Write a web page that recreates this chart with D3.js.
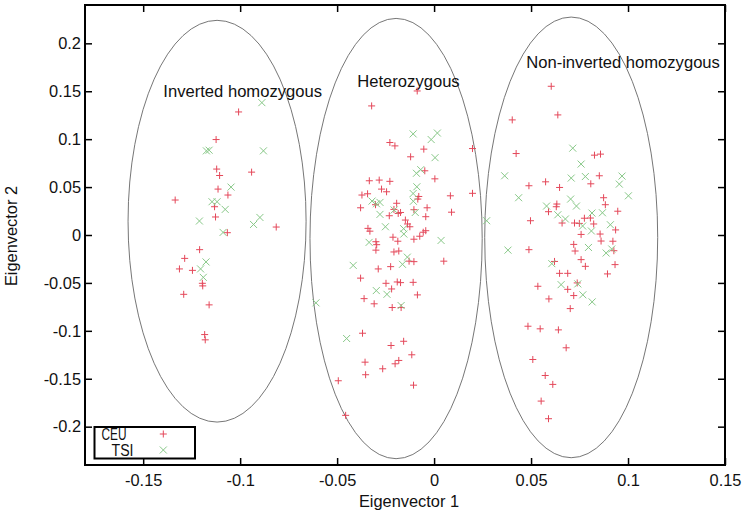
<!DOCTYPE html>
<html>
<head>
<meta charset="utf-8">
<script src="https://cdn.jsdelivr.net/npm/d3@7.9.0/dist/d3.min.js"></script>
<style>
  body { margin: 0; background: #fff; }
  svg text { font-family: "Liberation Sans", Arial, sans-serif; }
</style>
</head>
<body>
<div id="chart"></div>
<script>
// CEU samples (eigenvector 1, eigenvector 2)
const ceu = [
  // inverted homozygous
  [-0.1008, 0.1284], [-0.1124, 0.0996], [-0.1121, 0.0688], [-0.1106, 0.0621], [-0.0941, 0.0656],
  [-0.1114, 0.0479], [-0.1063, 0.0417], [-0.1335, 0.0365], [-0.1132, 0.0295], [-0.1127, 0.0188],
  [-0.1066, 0.0024], [-0.0814, 0.0083], [-0.1209, -0.0153], [-0.1286, -0.0244], [-0.1313, -0.0354],
  [-0.1246, -0.0369], [-0.1195, -0.0504], [-0.1193, -0.0531], [-0.1291, -0.0619], [-0.1160, -0.0729],
  [-0.1183, -0.1039], [-0.1180, -0.1094],
  // heterozygous
  [-0.0087, 0.1503], [-0.0322, 0.1347], [-0.0228, 0.0965], [-0.0202, 0.0930], [-0.0053, 0.0896],
  [-0.0121, 0.0816], [0.0198, 0.0902], [-0.0048, 0.0670], [0.0004, 0.0586], [-0.0334, 0.0566],
  [-0.0283, 0.0573], [-0.0228, 0.0560], [-0.0271, 0.0479], [-0.0245, 0.0451], [-0.0372, 0.0417],
  [-0.0343, 0.0430], [-0.0084, 0.0375], [-0.0079, 0.0402], [0.0084, 0.0409], [0.0198, 0.0435],
  [-0.0379, 0.0284], [-0.0302, 0.0316], [-0.0193, 0.0331], [-0.0036, 0.0284], [0.0090, 0.0238],
  [-0.0231, 0.0201], [-0.0185, 0.0225], [-0.0173, 0.0235], [-0.0207, 0.0267], [-0.0104, 0.0264],
  [-0.0043, 0.0191], [-0.0148, 0.0156], [-0.0137, 0.0115], [-0.0341, 0.0069], [-0.0331, 0.0040],
  [-0.0125, 0.0086], [-0.0043, 0.0045], [-0.0056, 0.0029], [-0.0074, -0.0013], [-0.0212, -0.0023],
  [-0.0187, -0.0065], [-0.0104, -0.0044], [-0.0300, -0.0070], [-0.0296, -0.0101], [-0.0300, -0.0158],
  [-0.0207, -0.0177], [-0.0182, -0.0167], [-0.0129, -0.0273], [-0.0104, -0.0278], [0.0050, -0.0273],
  [-0.0288, -0.0354], [-0.0224, -0.0330], [-0.0379, -0.0450], [-0.0248, -0.0504], [-0.0190, -0.0490],
  [-0.0173, -0.0497], [-0.0108, -0.0494], [-0.0219, -0.0563], [-0.0086, -0.0625], [-0.0361, -0.0664],
  [-0.0309, -0.0718], [-0.0216, -0.0757], [-0.0170, -0.0757], [-0.0369, -0.1025], [-0.0222, -0.1153],
  [-0.0157, -0.1109], [-0.0356, -0.1327], [-0.0353, -0.1458], [-0.0265, -0.1396], [-0.0201, -0.1344],
  [-0.0182, -0.1309], [-0.0115, -0.1250], [-0.0494, -0.1521], [-0.0106, -0.1567], [-0.0456, -0.1882],
  // non-inverted homozygous
  [0.0604, 0.1552], [0.0638, 0.1253], [0.0403, 0.1201], [0.0423, 0.0850], [0.0827, 0.0833],
  [0.0858, 0.0844], [0.0852, 0.0618], [0.0808, 0.0534], [0.0489, 0.0514], [0.0575, 0.0555],
  [0.0647, 0.0496], [0.0874, 0.0389], [0.0883, 0.0316], [0.0633, 0.0323], [0.0630, 0.0295],
  [0.0590, 0.0243], [0.0947, 0.0248], [0.0497, 0.0149], [0.0660, 0.0125], [0.0724, 0.0125],
  [0.0749, 0.0121], [0.0775, 0.0175], [0.0823, 0.0115], [0.0806, 0.0177], [0.0936, 0.0053],
  [0.0758, 0.0006], [0.0720, -0.0098], [0.0727, -0.0167], [0.0856, 0.0010], [0.0861, -0.0063],
  [0.0922, -0.0065], [0.0927, -0.0164], [0.0489, -0.0153], [0.0621, -0.0276], [0.0758, -0.0257],
  [0.0780, -0.0327], [0.0933, -0.0309], [0.0647, -0.0400], [0.0689, -0.0400], [0.0894, -0.0406],
  [0.0738, -0.0500], [0.0535, -0.0535], [0.0689, -0.0567], [0.0720, -0.0632], [0.0592, -0.0667],
  [0.0702, -0.0768], [0.0484, -0.0952], [0.0547, -0.0979], [0.0641, -0.0990], [0.0681, -0.1177],
  [0.0509, -0.1299], [0.0573, -0.1466], [0.0612, -0.1559], [0.0552, -0.1733], [0.0590, -0.1917]
];

// TSI samples
const tsi = [
  // inverted homozygous
  [-0.0888, 0.1381], [-0.1174, 0.0878], [-0.1160, 0.0885], [-0.0880, 0.0878], [-0.1047, 0.0500],
  [-0.1145, 0.0347], [-0.1119, 0.0347], [-0.1077, 0.0267], [-0.1210, 0.0146], [-0.0931, 0.0110],
  [-0.0898, 0.0183], [-0.1088, 0.0027], [-0.1176, -0.0281], [-0.1204, -0.0354], [-0.1190, -0.0442],
  // heterozygous
  [-0.0108, 0.1055], [-0.0015, 0.0996], [0.0017, 0.1064], [0.0005, 0.0807], [-0.0091, 0.0644],
  [-0.0069, 0.0682], [-0.0089, 0.0503], [-0.0108, 0.0433], [-0.0320, 0.0354], [-0.0279, 0.0340],
  [-0.0297, 0.0326], [-0.0107, 0.0352], [-0.0097, 0.0235], [-0.0279, 0.0215], [-0.0206, 0.0261],
  [-0.0251, 0.0086], [-0.0157, 0.0066], [-0.0156, 0.0010], [-0.0335, -0.0077], [0.0036, -0.0057],
  [-0.0138, -0.0231], [-0.0163, -0.0306], [-0.0417, -0.0317], [-0.0298, -0.0580], [-0.0243, -0.0619],
  [-0.0170, -0.0736], [-0.0609, -0.0708], [-0.0451, -0.1080], [0.0271, 0.0149],
  // non-inverted homozygous
  [0.0715, 0.0906], [0.0758, 0.0740], [0.0364, 0.0618], [0.0707, 0.0594], [0.0780, 0.0610],
  [0.0969, 0.0615], [0.0955, 0.0531], [0.1002, 0.0409], [0.0436, 0.0389], [0.0704, 0.0375],
  [0.0734, 0.0302], [0.0580, 0.0302], [0.0638, 0.0211], [0.0677, 0.0167], [0.0814, 0.0229],
  [0.0868, 0.0232], [0.0909, 0.0107], [0.0766, 0.0094], [0.0811, 0.0042], [0.0381, -0.0158],
  [0.0796, -0.0130], [0.0887, -0.0188], [0.0916, -0.0146], [0.0607, -0.0299], [0.0655, -0.0518],
  [0.0741, -0.0510], [0.0767, -0.0624], [0.0815, -0.0698]
];

// cluster ellipses: centre x, centre y, half width, half height (data units)
const groups = ['Inverted homozygous', 'Heterozygous', 'Non-inverted homozygous'];
const ellCx = [-0.1119, -0.0196, 0.0707];
const ellCy = [0.0144, -0.0037, -0.0025];
const ellRx = [0.0459, 0.0444, 0.0446];
const ellRy = [0.2096, 0.2297, 0.2299];
// where each group name is written (data units, left end of baseline)
const labelX = [-0.1396, -0.0396, 0.0475];
const labelY = [0.1444, 0.1545, 0.1746];

const xTicks = [-0.15, -0.1, -0.05, 0, 0.05, 0.1, 0.15];
const yTicks = [-0.2, -0.15, -0.1, -0.05, 0, 0.05, 0.1, 0.15, 0.2];

const width = 751;
const height = 518;
const margin = { top: 5, right: 26, bottom: 53, left: 85 };

const svg = d3.select('#chart')
  .append('svg')
  .attr('width', width)
  .attr('height', height);

const xScale = d3.scaleLinear()
  .domain([-0.18, 0.15])
  .range([margin.left, width - margin.right]);

const yScale = d3.scaleLinear()
  .domain([-0.24, 0.24])
  .range([height - margin.bottom, margin.top]);

const fmt = (d) => d === 0 ? '0' : String(d);

// ellipses
svg.append('g')
  .selectAll('ellipse')
  .data(groups)
  .join('ellipse')
  .attr('cx', (d, i) => xScale(ellCx[i]))
  .attr('cy', (d, i) => yScale(ellCy[i]))
  .attr('rx', (d, i) => xScale(ellCx[i] + ellRx[i]) - xScale(ellCx[i]))
  .attr('ry', (d, i) => yScale(ellCy[i]) - yScale(ellCy[i] + ellRy[i]))
  .attr('fill', 'none')
  .attr('stroke', '#666')
  .attr('stroke-width', 0.9);

// group labels
svg.append('g')
  .selectAll('text')
  .data(groups)
  .join('text')
  .attr('x', (d, i) => xScale(labelX[i]))
  .attr('y', (d, i) => yScale(labelY[i]))
  .attr('font-size', 16.6)
  .attr('fill', '#111')
  .text((d) => d);

// points
const s = 3.5;
svg.append('g')
  .selectAll('path')
  .data(ceu)
  .join('path')
  .attr('d', (d) => {
    const cx = xScale(d[0]), cy = yScale(d[1]);
    return `M${cx - s},${cy}H${cx + s}M${cx},${cy - s}V${cy + s}`;
  })
  .attr('stroke', '#e4485a')
  .attr('stroke-width', 1)
  .attr('fill', 'none');

svg.append('g')
  .selectAll('path')
  .data(tsi)
  .join('path')
  .attr('d', (d) => {
    const cx = xScale(d[0]), cy = yScale(d[1]);
    return `M${cx - s},${cy - s}L${cx + s},${cy + s}M${cx - s},${cy + s}L${cx + s},${cy - s}`;
  })
  .attr('stroke', '#88c888')
  .attr('stroke-width', 1)
  .attr('fill', 'none');

// axes, ticks pointing inwards on all four sides
const tick = 7;
const xAxis = svg.append('g')
  .attr('transform', `translate(0, ${height - margin.bottom})`)
  .call(d3.axisBottom(xScale).tickValues(xTicks).tickFormat(fmt).tickSize(-tick).tickPadding(9));
const xAxisTop = svg.append('g')
  .attr('transform', `translate(0, ${margin.top})`)
  .call(d3.axisTop(xScale).tickValues(xTicks).tickFormat('').tickSize(-tick));
const yAxis = svg.append('g')
  .attr('transform', `translate(${margin.left}, 0)`)
  .call(d3.axisLeft(yScale).tickValues(yTicks).tickFormat(fmt).tickSize(-tick).tickPadding(4));
const yAxisRight = svg.append('g')
  .attr('transform', `translate(${width - margin.right}, 0)`)
  .call(d3.axisRight(yScale).tickValues(yTicks).tickFormat('').tickSize(-tick));

[xAxis, xAxisTop, yAxis, yAxisRight].forEach((g) => {
  g.select('.domain').remove();
  g.selectAll('line').attr('stroke', '#000').attr('stroke-width', 1.5);
  g.selectAll('text').attr('font-size', 16.4).attr('fill', '#111')
    .style('font-family', '"Liberation Sans", Arial, sans-serif');
});

// frame
svg.append('rect')
  .attr('x', margin.left)
  .attr('y', margin.top)
  .attr('width', width - margin.left - margin.right)
  .attr('height', height - margin.top - margin.bottom)
  .attr('fill', 'none')
  .attr('stroke', '#000')
  .attr('stroke-width', 2);

// axis titles
svg.append('text')
  .attr('x', 409)
  .attr('y', 507)
  .attr('text-anchor', 'middle')
  .attr('font-size', 16.4)
  .attr('fill', '#111')
  .text('Eigenvector 1');

svg.append('text')
  .attr('transform', `translate(17, 236) rotate(-90)`)
  .attr('text-anchor', 'middle')
  .attr('font-size', 16.4)
  .attr('fill', '#111')
  .text('Eigenvector 2');

// legend
const legend = svg.append('g');
legend.append('rect')
  .attr('x', 94.5)
  .attr('y', 427)
  .attr('width', 100.5)
  .attr('height', 31.5)
  .attr('fill', '#fff')
  .attr('stroke', '#000')
  .attr('stroke-width', 2);

const legendItems = [
  { name: 'CEU', x: 101.5, y: 440, len: 25, my: 434, color: '#e4485a', shape: 'plus' },
  { name: 'TSI', x: 111.5, y: 456, len: 22, my: 450, color: '#88c888', shape: 'cross' }
];
legendItems.forEach((it) => {
  legend.append('text')
    .attr('x', it.x)
    .attr('y', it.y)
    .attr('font-size', 16)
    .attr('textLength', it.len)
    .attr('lengthAdjust', 'spacingAndGlyphs')
    .attr('fill', '#111')
    .text(it.name);
  const cx = 163.3, cy = it.my;
  legend.append('path')
    .attr('d', it.shape === 'plus'
      ? `M${cx - s},${cy}H${cx + s}M${cx},${cy - s}V${cy + s}`
      : `M${cx - s},${cy - s}L${cx + s},${cy + s}M${cx - s},${cy + s}L${cx + s},${cy - s}`)
    .attr('stroke', it.color)
    .attr('stroke-width', 1)
    .attr('fill', 'none');
});
</script>
</body>
</html>
